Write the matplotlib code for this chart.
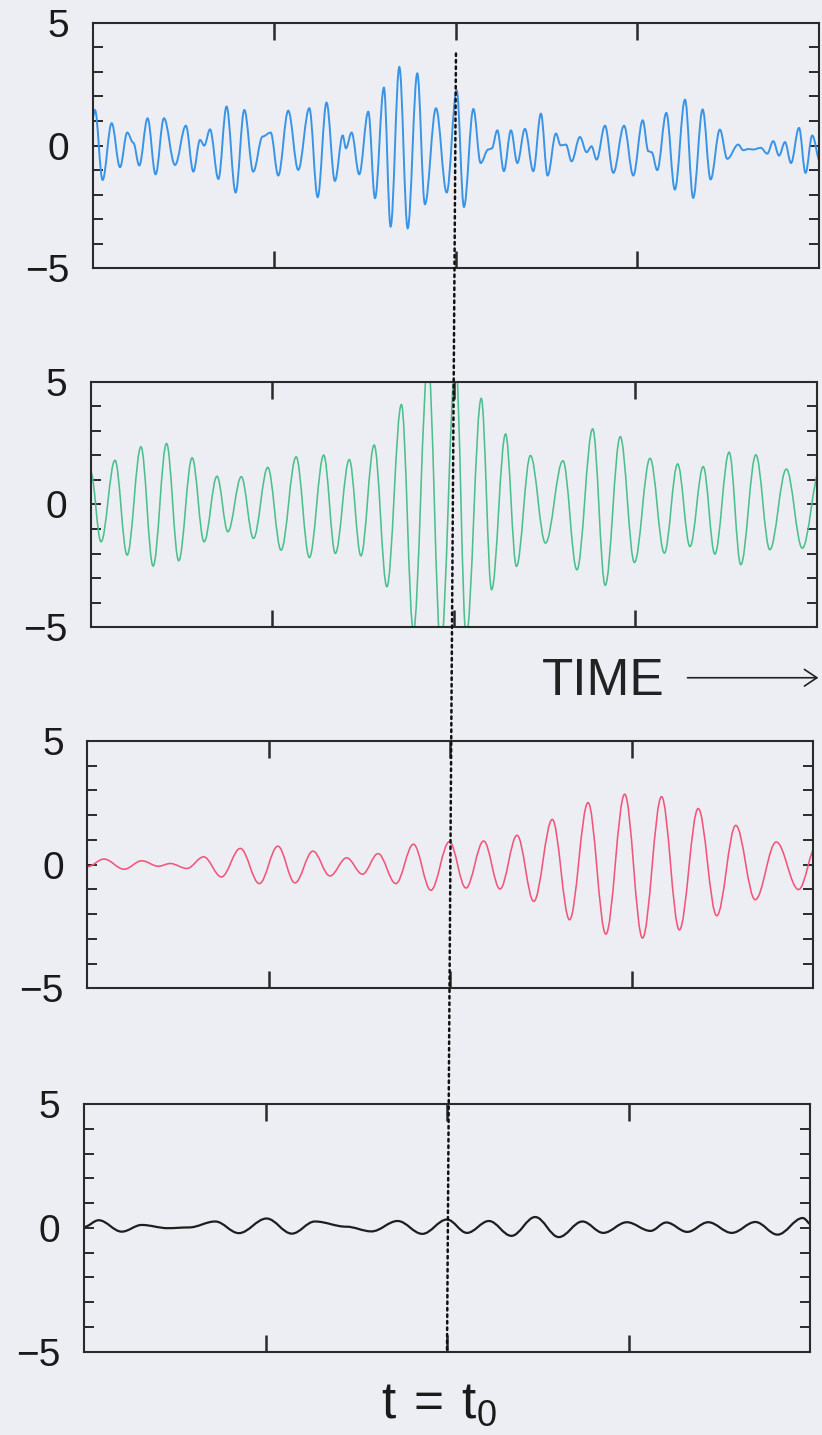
#!/usr/bin/env python
# Four stacked wave traces with a common reference time t = t0

import matplotlib
matplotlib.use('Agg')
from matplotlib import pyplot as plt
from matplotlib.path import Path
from matplotlib.patches import PathPatch, ConnectionPatch, FancyArrowPatch

# turning points (time in quarter-panel units, amplitude)
blue_t = [0.00, 0.011, 0.053, 0.103, 0.149, 0.189, 0.222, 0.255, 0.301, 0.345,
          0.391, 0.452, 0.512, 0.553, 0.590, 0.613, 0.645, 0.691, 0.736, 0.786,
          0.834, 0.883, 0.935, 0.979, 1.021, 1.076, 1.131, 1.192, 1.238, 1.287,
          1.333, 1.376, 1.394, 1.425, 1.467, 1.517, 1.554, 1.603, 1.640, 1.688,
          1.734, 1.787, 1.829, 1.890, 1.949, 2.004, 2.044, 2.096, 2.136, 2.178,
          2.197, 2.228, 2.264, 2.303, 2.338, 2.380, 2.426, 2.468, 2.505, 2.551,
          2.577, 2.606, 2.637, 2.683, 2.720, 2.747, 2.775, 2.821, 2.867, 2.926,
          2.977, 3.029, 3.060, 3.078, 3.109, 3.159, 3.206, 3.262, 3.307, 3.359,
          3.403, 3.454, 3.495, 3.555, 3.583, 3.611, 3.638, 3.679, 3.715, 3.748,
          3.780, 3.813, 3.846, 3.890, 3.926, 3.963, 4.006]
blue_v = [1.18, 1.45, -1.40, 0.91, -0.88, 0.53, 0.12, -0.81, 1.11, -1.17,
          1.11, -0.79, 0.81, -1.06, 0.23, 0.00, 0.66, -1.36, 1.59, -1.91,
          1.45, -1.06, 0.37, 0.53, -1.22, 1.42, -0.99, 1.52, -2.10, 1.75,
          -1.44, 0.41, -0.11, 0.53, -1.17, 1.38, -2.14, 2.36, -3.30, 3.20,
          -3.37, 2.94, -2.39, 1.52, -1.91, 2.25, -2.50, 1.49, -0.71, -0.16,
          -0.12, 0.62, -1.04, 0.62, -0.71, 0.68, -1.04, 1.30, -1.22, 0.49,
          0.01, 0.04, -0.64, 0.35, -0.27, -0.03, -0.57, 0.81, -1.11, 0.81,
          -1.22, 1.03, -0.23, -0.27, -1.00, 1.33, -1.79, 1.87, -2.13, 1.47,
          -1.38, 0.65, -0.54, 0.04, -0.19, -0.14, -0.16, -0.09, -0.33, 0.18,
          -0.41, 0.14, -0.71, 0.72, -1.11, 0.41, -0.64]

green_t = [0.000, 0.057, 0.134, 0.201, 0.277, 0.344, 0.418, 0.485, 0.559, 0.625,
           0.696, 0.756, 0.830, 0.897, 0.976, 1.049, 1.132, 1.205, 1.284, 1.348,
           1.425, 1.489, 1.562, 1.632, 1.712, 1.778, 1.859, 1.929, 2.011, 2.069,
           2.152, 2.209, 2.286, 2.346, 2.423, 2.506, 2.602, 2.679, 2.766, 2.835,
           2.918, 2.996, 3.082, 3.161, 3.234, 3.302, 3.375, 3.439, 3.518, 3.582,
           3.665, 3.742, 3.833, 3.921, 4.018]
green_v = [1.33, -1.52, 1.80, -2.06, 2.35, -2.51, 2.48, -2.29, 1.90, -1.52,
           1.15, -1.11, 1.13, -1.38, 1.51, -1.86, 1.94, -2.16, 2.01, -1.99,
           1.83, -2.09, 2.42, -3.35, 4.07, -5.15, 5.8, -5.8, 5.8, -5.4,
           4.32, -3.47, 2.87, -2.52, 1.99, -1.57, 1.78, -2.66, 3.08, -3.29,
           2.76, -2.36, 1.88, -1.98, 1.65, -1.71, 1.54, -2.02, 2.13, -2.45,
           2.02, -1.84, 1.44, -1.78, 1.41]

red_t = [0.000, 0.092, 0.203, 0.300, 0.392, 0.457, 0.549, 0.641, 0.739, 0.843,
         0.948, 1.050, 1.144, 1.243, 1.337, 1.429, 1.516, 1.602, 1.700, 1.797,
         1.893, 1.995, 2.086, 2.184, 2.274, 2.368, 2.460, 2.562, 2.657, 2.759,
         2.857, 2.961, 3.059, 3.164, 3.262, 3.366, 3.468, 3.573, 3.680, 3.796,
         3.919, 4.020]
red_v = [-0.09, 0.22, -0.19, 0.15, -0.07, 0.04, -0.16, 0.31, -0.50, 0.65,
         -0.77, 0.74, -0.74, 0.54, -0.46, 0.27, -0.39, 0.44, -0.77, 0.82,
         -1.04, 0.92, -0.95, 0.95, -0.99, 1.18, -1.49, 1.82, -2.23, 2.50,
         -2.81, 2.84, -2.97, 2.74, -2.64, 2.26, -2.07, 1.58, -1.42, 0.91,
         -1.01, 0.81]

black_t = [0.000, 0.081, 0.208, 0.318, 0.462, 0.578, 0.723, 0.853, 1.006, 1.145,
           1.272, 1.445, 1.584, 1.728, 1.864, 2.000, 2.110, 2.231, 2.355, 2.486,
           2.616, 2.746, 2.861, 2.991, 3.121, 3.208, 3.324, 3.439, 3.569, 3.699,
           3.821, 3.960, 4.012]
black_v = [0.04, 0.31, -0.15, 0.12, -0.01, 0.02, 0.26, -0.21, 0.38, -0.23,
           0.26, 0.05, -0.14, 0.28, -0.24, 0.34, -0.20, 0.28, -0.32, 0.44,
           -0.37, 0.26, -0.20, 0.23, -0.12, 0.22, -0.16, 0.23, -0.20, 0.24,
           -0.27, 0.40, 0.11]

t0 = 2.0          # reference time marked by the dotted line
t0_top = 3.75     # where the dotted line starts in the top panel

traces = [(blue_t, blue_v, '#3a94e6', 1.4),
          (green_t, green_v, '#4dbf8c', 1.15),
          (red_t, red_v, '#f2557a', 1.15),
          (black_t, black_v, '#1e1e1e', 1.6)]

# panel rectangles (the scan is slightly skewed, so each sits a bit further left)
panels = [[0.1131, 0.8130, 0.8832, 0.1711],
          [0.1103, 0.5629, 0.8832, 0.1711],
          [0.1062, 0.3113, 0.8832, 0.1725],
          [0.1022, 0.0580, 0.8832, 0.1726]]

BG = '#eceef3'
INK = '#2a2a2a'


def wave_path(t, v, k=0.36):
    # smooth bezier through the turning points, flat tangent at each one
    verts = [(t[0], v[0])]
    codes = [Path.MOVETO]
    for i in range(1, len(t)):
        d = k * (t[i] - t[i - 1])
        verts += [(t[i - 1] + d, v[i - 1]), (t[i] - d, v[i]), (t[i], v[i])]
        codes += [Path.CURVE4] * 3
    return Path(verts, codes)


plt.rcParams['font.family'] = ['Liberation Sans', 'DejaVu Sans']

fig = plt.figure(figsize=(8.22, 14.35), dpi=100)
fig.patch.set_facecolor(BG)

axes = []
for rect, (t, v, color, lw) in zip(panels, traces):
    ax = fig.add_axes(rect)
    ax.set_facecolor('none')
    ax.add_patch(PathPatch(wave_path(t, v), fill=False, edgecolor=color,
                           lw=lw, zorder=2))
    ax.set_xlim(0, 4)
    ax.set_ylim(-5, 5)

    ax.set_xticks([1, 2, 3])
    ax.set_xticklabels([])
    ax.set_yticks(range(-5, 6))
    ax.set_yticklabels(['\u22125' if y == -5 else str(y) if y in (0, 5) else ''
                        for y in range(-5, 6)])
    ax.tick_params(axis='x', direction='in', top=True, length=12, width=1.8,
                   color=INK)
    ax.tick_params(axis='y', direction='in', right=True, length=7, width=1.4,
                   color=INK, labelsize=28, labelcolor='#1a1a1a', pad=17)
    for sp in ax.spines.values():
        sp.set_linewidth(1.5)
        sp.set_color(INK)
    axes.append(ax)

# dotted marker at t = t0 running through all panels
con = ConnectionPatch(xyA=(t0, t0_top), coordsA=axes[0].transData,
                      xyB=(t0, -5), coordsB=axes[3].transData,
                      color='#111111', lw=1.8, linestyle=(0, (1.0, 1.6)),
                      zorder=5)
fig.add_artist(con)

# TIME label with arrow
fig.text(0.7342, 0.5157, 'TIME', fontsize=37, color='#222222',
         ha='center', va='baseline')
arrow = FancyArrowPatch((0.833, 0.5277), (0.999, 0.5277),
                        transform=fig.transFigure,
                        arrowstyle='->,head_length=0.45,head_width=0.3',
                        mutation_scale=20, lw=1.2, color='#222222')
fig.add_artist(arrow)

# t = t0 label under the bottom panel
fig.text(0.534, 0.0118, r'$\mathregular{t\,=\,t_0}$', fontsize=37,
         color='#1a1a1a', ha='center', va='baseline')

fig.savefig('out.png', dpi=100, facecolor=BG)
